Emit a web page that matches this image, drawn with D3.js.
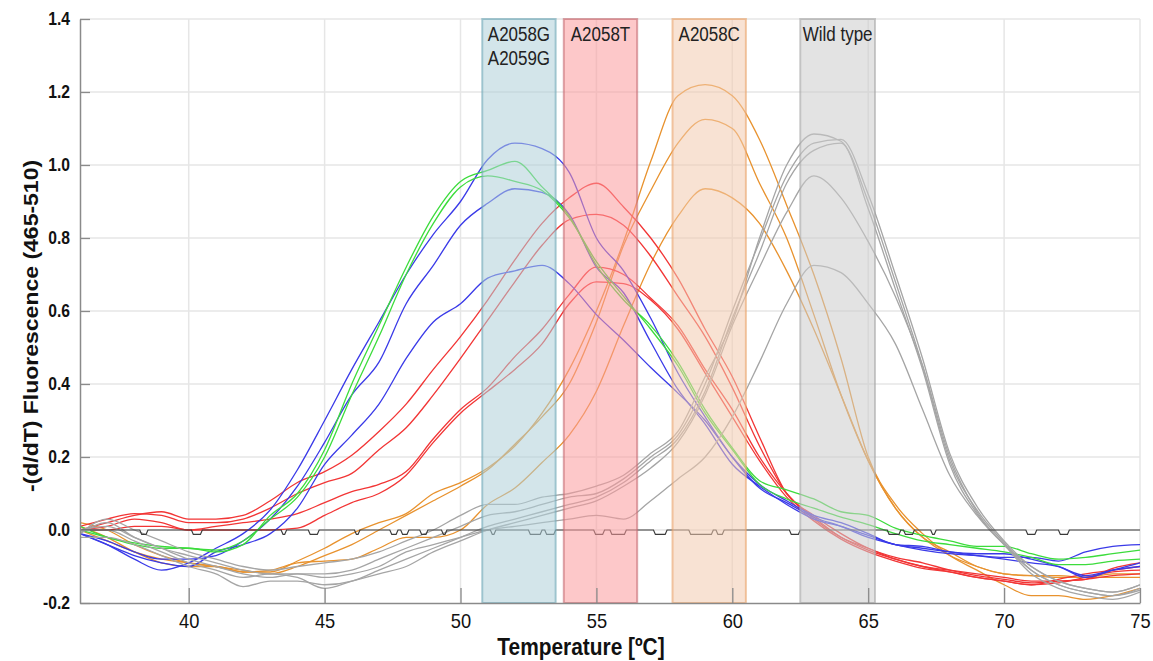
<!DOCTYPE html>
<html>
<head>
<meta charset="utf-8">
<script src="https://cdn.jsdelivr.net/npm/d3@7"></script>
<style>
  body { margin: 0; background: #fff; }
  text { font-family: "Liberation Sans", Arial, sans-serif; }
</style>
</head>
<body>
<div id="chart"></div>
<script>
// temperature grid (°C) shared by every melting curve
const temps = [36, 37, 38, 39, 40, 41, 42, 43, 44, 45, 46, 47, 48, 49, 50, 51, 52, 53, 54, 55,
  56, 57, 58, 59, 60, 61, 62, 63, 64, 65, 66, 67, 68, 69, 70, 71, 72, 73, 74, 75];

// -(d/dT) fluorescence
const green1 = [0.00, -0.02, -0.04, -0.05, -0.05, -0.06, -0.04, 0.04, 0.10, 0.22, 0.40, 0.56, 0.72, 0.86, 0.955, 0.985, 1.01, 0.94, 0.86, 0.725,
  0.63, 0.56, 0.46, 0.33, 0.225, 0.135, 0.11, 0.085, 0.05, 0.04, 0.005, -0.015, -0.03, -0.045, -0.045, -0.065, -0.08, -0.075, -0.065, -0.055];
const green2 = [0.01, -0.02, -0.035, -0.045, -0.05, -0.055, -0.03, 0.03, 0.09, 0.20, 0.37, 0.53, 0.70, 0.84, 0.94, 0.97, 0.955, 0.93, 0.855, 0.735,
  0.64, 0.55, 0.45, 0.32, 0.22, 0.125, 0.085, 0.06, 0.035, 0.015, -0.01, -0.03, -0.04, -0.05, -0.06, -0.075, -0.095, -0.095, -0.085, -0.08];

const blue1 = [-0.01, -0.04, -0.08, -0.11, -0.09, -0.05, -0.01, 0.055, 0.165, 0.30, 0.44, 0.57, 0.70, 0.81, 0.90, 1.015, 1.06, 1.045, 0.98, 0.80,
  0.71, 0.58, 0.43, 0.31, 0.20, 0.115, 0.075, 0.035, 0.01, -0.02, -0.04, -0.055, -0.065, -0.07, -0.075, -0.075, -0.085, -0.06, -0.045, -0.04];
const blue2 = [-0.01, -0.03, -0.06, -0.08, -0.08, -0.07, -0.03, 0.03, 0.12, 0.24, 0.37, 0.46, 0.62, 0.725, 0.835, 0.895, 0.935, 0.925, 0.865, 0.72,
  0.65, 0.515, 0.385, 0.29, 0.18, 0.12, 0.07, 0.03, 0.01, -0.015, -0.04, -0.05, -0.06, -0.07, -0.08, -0.09, -0.10, -0.13, -0.11, -0.09];
const blue3 = [-0.01, -0.04, -0.07, -0.09, -0.10, -0.06, -0.04, -0.01, 0.06, 0.18, 0.26, 0.345, 0.47, 0.57, 0.62, 0.69, 0.71, 0.725, 0.675, 0.59,
  0.52, 0.445, 0.375, 0.30, 0.20, 0.125, 0.08, 0.04, 0.02, -0.01, -0.04, -0.045, -0.06, -0.065, -0.065, -0.08, -0.10, -0.125, -0.11, -0.10];

const red1 = [0.00, 0.02, 0.04, 0.05, 0.03, 0.03, 0.04, 0.08, 0.13, 0.16, 0.205, 0.27, 0.345, 0.44, 0.53, 0.63, 0.74, 0.84, 0.91, 0.95,
  0.885, 0.80, 0.69, 0.55, 0.42, 0.255, 0.10, 0.04, -0.01, -0.05, -0.075, -0.09, -0.11, -0.125, -0.135, -0.145, -0.14, -0.135, -0.105, -0.09];
const red2 = [0.01, 0.03, 0.045, 0.04, 0.02, 0.02, 0.03, 0.06, 0.10, 0.13, 0.155, 0.22, 0.28, 0.37, 0.47, 0.575, 0.68, 0.78, 0.85, 0.865,
  0.835, 0.75, 0.64, 0.53, 0.39, 0.23, 0.10, 0.035, -0.02, -0.055, -0.08, -0.10, -0.115, -0.13, -0.14, -0.15, -0.135, -0.12, -0.11, -0.10];
const red3 = [0.00, 0.01, 0.03, 0.02, 0.00, 0.01, 0.02, 0.03, 0.045, 0.075, 0.105, 0.125, 0.16, 0.25, 0.33, 0.39, 0.475, 0.55, 0.645, 0.72,
  0.70, 0.635, 0.56, 0.44, 0.33, 0.20, 0.10, 0.03, -0.02, -0.05, -0.08, -0.10, -0.11, -0.12, -0.13, -0.14, -0.14, -0.135, -0.125, -0.12];
const red4 = [0.00, 0.00, 0.01, 0.01, 0.00, 0.00, 0.00, 0.00, 0.005, 0.04, 0.075, 0.10, 0.15, 0.24, 0.32, 0.38, 0.44, 0.51, 0.62, 0.68,
  0.675, 0.63, 0.55, 0.43, 0.31, 0.19, 0.09, 0.025, -0.025, -0.06, -0.085, -0.105, -0.115, -0.13, -0.14, -0.15, -0.145, -0.13, -0.115, -0.11];

const orange1 = [0.01, -0.02, -0.06, -0.09, -0.10, -0.10, -0.115, -0.115, -0.085, -0.05, -0.01, 0.02, 0.045, 0.10, 0.13, 0.17, 0.23, 0.32, 0.44, 0.60,
  0.79, 1.01, 1.19, 1.22, 1.19, 1.07, 0.89, 0.70, 0.47, 0.20, 0.07, -0.01, -0.07, -0.11, -0.15, -0.18, -0.18, -0.19, -0.18, -0.16];
const orange2 = [0.02, 0.00, -0.04, -0.07, -0.09, -0.10, -0.11, -0.12, -0.10, -0.07, -0.04, 0.00, 0.04, 0.08, 0.12, 0.165, 0.235, 0.31, 0.40, 0.57,
  0.78, 0.93, 1.06, 1.125, 1.10, 0.95, 0.80, 0.59, 0.37, 0.19, 0.06, -0.02, -0.07, -0.10, -0.12, -0.125, -0.13, -0.13, -0.13, -0.13];
const orange3 = [0.00, -0.03, -0.06, -0.08, -0.09, -0.10, -0.115, -0.11, -0.09, -0.085, -0.08, -0.05, -0.02, -0.02, 0.00, 0.07, 0.115, 0.185, 0.26, 0.38,
  0.56, 0.73, 0.86, 0.935, 0.91, 0.84, 0.71, 0.55, 0.37, 0.19, 0.06, -0.02, -0.06, -0.10, -0.12, -0.125, -0.125, -0.13, -0.12, -0.12];

const gray1 = [-0.01, 0.03, 0.00, -0.03, -0.06, -0.08, -0.10, -0.11, -0.10, -0.09, -0.08, -0.06, -0.03, 0.00, 0.04, 0.07, 0.07, 0.09, 0.10, 0.12,
  0.15, 0.21, 0.27, 0.42, 0.57, 0.80, 1.00, 1.085, 1.065, 0.90, 0.68, 0.45, 0.19, 0.055, -0.035, -0.11, -0.15, -0.17, -0.18, -0.165];
const gray2 = [0.00, 0.01, -0.02, -0.05, -0.08, -0.10, -0.12, -0.13, -0.12, -0.12, -0.11, -0.08, -0.05, -0.02, 0.01, 0.04, 0.05, 0.07, 0.09, 0.10,
  0.14, 0.20, 0.26, 0.40, 0.60, 0.79, 0.97, 1.06, 1.07, 0.92, 0.70, 0.47, 0.21, 0.065, -0.03, -0.10, -0.14, -0.16, -0.17, -0.15];
const gray3 = [-0.02, -0.02, -0.04, -0.07, -0.10, -0.12, -0.155, -0.14, -0.14, -0.15, -0.14, -0.11, -0.08, -0.05, -0.02, 0.01, 0.03, 0.05, 0.07, 0.09,
  0.13, 0.19, 0.25, 0.38, 0.58, 0.76, 0.95, 1.04, 1.06, 0.88, 0.66, 0.44, 0.18, 0.045, -0.04, -0.12, -0.16, -0.18, -0.19, -0.17];
const gray4 = [0.00, 0.00, -0.03, -0.06, -0.09, -0.11, -0.13, -0.12, -0.13, -0.16, -0.14, -0.12, -0.10, -0.06, -0.03, 0.00, 0.02, 0.04, 0.06, 0.08,
  0.12, 0.17, 0.24, 0.37, 0.56, 0.72, 0.87, 0.97, 0.91, 0.79, 0.64, 0.45, 0.20, 0.05, -0.04, -0.11, -0.15, -0.17, -0.18, -0.16];
const gray5 = [-0.01, 0.02, -0.02, -0.05, -0.07, -0.09, -0.11, -0.12, -0.12, -0.13, -0.12, -0.10, -0.06, -0.04, -0.02, 0.00, 0.01, 0.02, 0.03, 0.04,
  0.03, 0.08, 0.14, 0.20, 0.31, 0.46, 0.62, 0.725, 0.705, 0.62, 0.51, 0.33, 0.15, 0.04, -0.04, -0.10, -0.14, -0.16, -0.17, -0.15];

// negative control: flat at zero with little notches [from, to] in °C
const controlDips = [[38.2, 38.5], [40.1, 40.5], [43.4, 43.6], [44.4, 44.8], [46.1, 46.3], [47.4, 47.7], [47.8, 48.1],
  [48.5, 48.8], [49.3, 49.5], [51.1, 51.3], [52.5, 53.0], [53.1, 53.5], [54.9, 55.3], [55.5, 56.1], [57.1, 57.6],
  [58.4, 59.3], [59.4, 59.7], [62.1, 62.5], [65.7, 66.2], [66.3, 66.7], [67.3, 67.5], [70.8, 71.2], [72.0, 72.4]];
const dipDepth = -0.012;

// genotype windows (°C)
const bandNames = [['A2058G', 'A2059G'], ['A2058T'], ['A2058C'], ['Wild type']];
const bandFrom = [50.8, 53.8, 57.8, 62.5];
const bandTo = [53.5, 56.5, 60.5, 65.25];

const xTicks = [40, 45, 50, 55, 60, 65, 70, 75];
const yTicks = [-0.2, 0.0, 0.2, 0.4, 0.6, 0.8, 1.0, 1.2, 1.4];

const series = [
  {values: orange1, color: '#e8922e'}, {values: orange2, color: '#e8922e'}, {values: orange3, color: '#e8922e'},
  {values: red1, color: '#f23535'}, {values: red2, color: '#f23535'}, {values: red3, color: '#f23535'}, {values: red4, color: '#f23535'},
  {values: blue1, color: '#3a3ae8'}, {values: blue2, color: '#3a3ae8'}, {values: blue3, color: '#3a3ae8'},
  {values: green1, color: '#3cdc3c'}, {values: green2, color: '#3cdc3c'},
  {values: gray1, color: '#a5a5a5'}, {values: gray2, color: '#a5a5a5'}, {values: gray3, color: '#a5a5a5'},
  {values: gray4, color: '#a5a5a5'}, {values: gray5, color: '#a5a5a5'}
];
const bandFill = ['#afd0d9', '#fb9b9d', '#f2caae', '#cccccc'];
const bandStroke = ['#6fa9b8', '#c46a72', '#eaa36a', '#a8a8a8'];

const W = 1153, H = 661;
const x = d3.scaleLinear().domain([36, 75]).range([80, 1140]);
const y = d3.scaleLinear().domain([-0.2, 1.4]).range([603, 19]);
const squeeze = 0.87; // the picture's text is horizontally narrow

const svg = d3.select('#chart').append('svg')
    .attr('width', W)
    .attr('height', H);

svg.append('defs').append('clipPath').attr('id', 'plot')
  .append('rect')
    .attr('x', x(36)).attr('y', y(1.4))
    .attr('width', x(75) - x(36)).attr('height', y(-0.2) - y(1.4));

// grid
const grid = svg.append('g').attr('stroke', '#e6e6e6').attr('stroke-width', 1.5);
grid.selectAll('line.v').data(xTicks).join('line')
    .attr('class', 'v')
    .attr('x1', d => x(d)).attr('x2', d => x(d))
    .attr('y1', y(1.4)).attr('y2', y(-0.2));
grid.selectAll('line.h').data(yTicks.slice(1)).join('line')
    .attr('class', 'h')
    .attr('x1', x(36)).attr('x2', x(75))
    .attr('y1', d => y(d)).attr('y2', d => y(d));

// curves
const plot = svg.append('g').attr('clip-path', 'url(#plot)');
const line = d3.line()
    .x((d, i) => x(temps[i]))
    .y(d => y(d))
    .curve(d3.curveMonotoneX);

plot.selectAll('path.curve').data(series).join('path')
    .attr('class', 'curve')
    .attr('fill', 'none')
    .attr('stroke', d => d.color)
    .attr('stroke-width', 1.3)
    .attr('d', d => line(d.values));

// control line with notches
const controlPts = [[36, 0]];
controlDips.forEach(([a, b]) => {
  controlPts.push([a, 0], [a + 0.07, dipDepth], [b - 0.07, dipDepth], [b, 0]);
});
controlPts.push([75, 0]);
plot.append('path')
    .attr('fill', 'none')
    .attr('stroke', '#3a3a3a')
    .attr('stroke-width', 1.2)
    .attr('d', d3.line().x(d => x(d[0])).y(d => y(d[1]))(controlPts));

// genotype bands, drawn over the curves
const bands = svg.append('g');
bands.selectAll('rect').data(bandNames).join('rect')
    .attr('x', (d, i) => x(bandFrom[i]))
    .attr('y', y(1.4))
    .attr('width', (d, i) => x(bandTo[i]) - x(bandFrom[i]))
    .attr('height', y(-0.2) - y(1.4))
    .attr('fill', (d, i) => bandFill[i])
    .attr('fill-opacity', 0.55)
    .attr('stroke', (d, i) => bandStroke[i])
    .attr('stroke-opacity', 0.6)
    .attr('stroke-width', 2);

bandNames.forEach((names, i) => {
  const cx = (x(bandFrom[i]) + x(bandTo[i])) / 2;
  names.forEach((name, j) => {
    svg.append('text')
        .attr('transform', `translate(${cx},${40.5 + j * 24.5}) scale(${squeeze},1)`)
        .attr('text-anchor', 'middle')
        .attr('font-size', 19.5)
        .attr('fill', '#222')
        .text(name);
  });
});

// axes
const xAxis = svg.append('g')
    .attr('transform', `translate(0,${y(-0.2)})`)
    .call(d3.axisBottom(x).tickValues(xTicks).tickSize(-15).tickSizeOuter(0));
xAxis.select('.domain').attr('stroke', '#8a8a8a').attr('stroke-width', 1.5);
xAxis.selectAll('.tick line').attr('stroke', '#8a8a8a').attr('stroke-width', 1.3);
xAxis.selectAll('.tick text')
    .attr('y', 25).attr('dy', null)
    .attr('transform', `scale(${squeeze},1)`)
    .attr('font-size', 21)
    .attr('font-family', '"Liberation Sans", Arial, sans-serif')
    .attr('fill', '#111');

const yAxis = svg.append('g')
    .attr('transform', `translate(${x(36)},0)`)
    .call(d3.axisLeft(y).tickValues(yTicks).tickSize(-10).tickSizeOuter(0)
        .tickFormat(d => d.toFixed(1)));
yAxis.select('.domain').attr('stroke', '#8a8a8a').attr('stroke-width', 1.5);
yAxis.selectAll('.tick line').attr('stroke', '#8a8a8a').attr('stroke-width', 1.3);
yAxis.selectAll('.tick text')
    .attr('x', -11.5)
    .attr('transform', `scale(${squeeze},1)`)
    .attr('font-size', 18)
    .attr('font-weight', 'bold')
    .attr('font-family', '"Liberation Sans", Arial, sans-serif')
    .attr('fill', '#111');

// titles
svg.append('text')
    .attr('transform', `translate(581,655) scale(${squeeze},1)`)
    .attr('text-anchor', 'middle')
    .attr('font-size', 24)
    .attr('font-weight', 'bold')
    .attr('fill', '#111')
    .text('Temperature [ºC]');

svg.append('text')
    .attr('transform', `translate(38,326) scale(${squeeze},1) rotate(-90)`)
    .attr('text-anchor', 'middle')
    .attr('font-size', 23)
    .attr('font-weight', 'bold')
    .attr('fill', '#111')
    .text('-(d/dT) Fluorescence (465-510)');
</script>
</body>
</html>
